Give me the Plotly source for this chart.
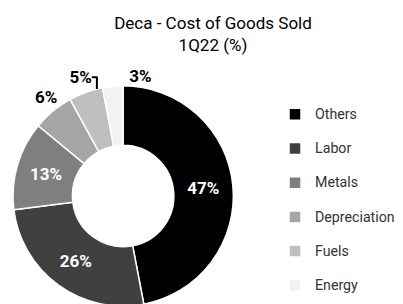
import plotly.graph_objects as go

labels = ["Others", "Labor", "Metals", "Depreciation", "Fuels", "Energy"]
values = [47, 26, 13, 6, 5, 3]
colors = ["#000000", "#404040", "#7f7f7f", "#a5a5a5", "#bfbfbf", "#f2f2f2"]
label_inside = [True, True, True, False, False, False]

W, H = 403, 340
L, T = 2, 60
plot_w = W - L
pie_d = 222
dom = dict(x=[0, pie_d / plot_w], y=[0, 1])

legend_labels = ['<span style="font-size:14.2px">%s</span><br> ' % l for l in labels]

# Donut slices with the inside percentage labels
fig = go.Figure(go.Pie(
    labels=legend_labels,
    values=values,
    sort=False,
    direction="clockwise",
    rotation=0,
    hole=0.46,
    marker=dict(colors=colors, line=dict(color="#ffffff", width=1.5)),
    texttemplate=["%{value}%" if i else "" for i in label_inside],
    textposition=["inside" if i else "none" for i in label_inside],
    insidetextorientation="horizontal",
    textfont=dict(family="Roboto", size=17, weight="bold", color="#ffffff"),
    hoverinfo="value",
    domain=dom,
))

# Transparent companion ring carrying the outside labels of the small slices
fig.add_trace(go.Pie(
    labels=legend_labels,
    values=values,
    sort=False,
    direction="clockwise",
    rotation=6,
    hole=0.46,
    marker=dict(colors=["rgba(0,0,0,0)"] * len(values), line=dict(width=0)),
    texttemplate=["" if i else "%{value}%" for i in label_inside],
    textposition=["none" if i else "outside" for i in label_inside],
    textfont=dict(family="Roboto", size=17, weight="bold", color="#000000"),
    hoverinfo="skip",
    showlegend=False,
    domain=dom,
))

fig.update_layout(
    width=W, height=H,
    margin=dict(l=L, r=0, t=T, b=0),
    paper_bgcolor="#ffffff",
    plot_bgcolor="#ffffff",
    title=dict(
        text="Deca - Cost of Goods Sold<br>1Q22 (%)",
        x=205 / W, xanchor="center",
        y=1 - 21 / H, yanchor="top", yref="container",
        font=dict(family="Roboto", size=17, color="#000000"),
    ),
    legend=dict(
        x=(266 - L) / plot_w, xanchor="left",
        y=1 - (95 - T) / (H - T), yanchor="top",
        font=dict(family="Roboto", size=12, color="#333333"),
        valign="top",
        bgcolor="rgba(0,0,0,0)",
    ),
    showlegend=True,
)

fig.write_html("out.html")
